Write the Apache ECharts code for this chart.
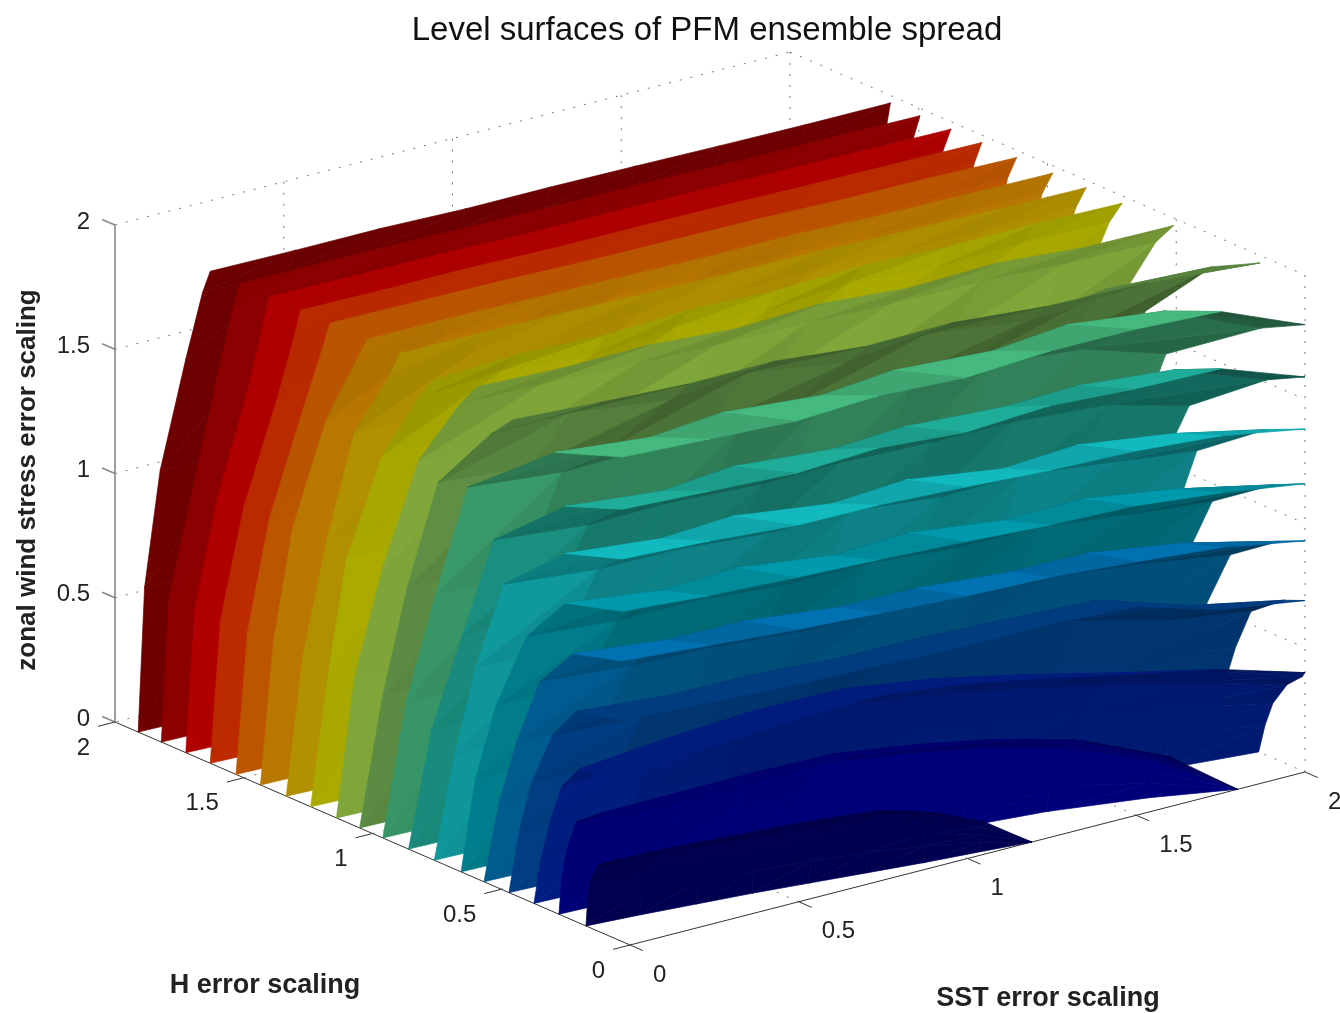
<!DOCTYPE html>
<html><head><meta charset="utf-8">
<style>html,body{margin:0;padding:0;background:#fff}#c{width:1340px;height:1013px;filter:blur(0.5px)}</style>
<script src="https://cdn.jsdelivr.net/npm/echarts@6/dist/echarts.min.js"></script></head>
<body><div id="c"></div>
<script>
const tickValues=[0,0.5,1,1.5,2];
const tickLabels=['0','0.5','1','1.5','2'];
const rowFractions=[0,0.3,0.55,0.8,0.95,1];
const sstGrid=[0,0.25,0.5,0.75,1,1.25,1.5,1.75,2];
const sstGrid18=[0,0.225,0.45,0.675,0.9,1.125,1.35,1.6,1.8];
const sstGrid19=[0,0.15,0.3,0.45,0.6,0.75,0.9,1.05,1.19];
const levelColors=['#6e0000','#8c0000','#b00000','#bb2a00','#bb5500','#b87700','#b09000','#a8a800','#7fa53a','#5f9045','#3a9a6a','#1a9080','#0f9a9f','#00808f','#005f94','#003f85','#001e85','#000075','#00004e'];
const top01=[1.98,1.98,1.98,1.975,1.975,1.975,1.97,1.97,1.97],top02=top01,top03=top01,top04=top01,top05=top01,top06=top01,top07=top01;
const top08=[1.93,1.95,1.94,1.96,1.95,1.97,1.96,1.97,1.97];
const top09=[1.98,1.97,1.98,1.96,1.98,1.96,1.98,1.96,1.97];
const top10=[1.91,1.90,1.89,1.90,1.88,1.90,1.89,1.93,1.97];
const top11=[1.95,1.94,1.93,1.94,1.93,1.95,1.95,1.94,1.8];
const top12=[1.74,1.73,1.72,1.73,1.71,1.73,1.71,1.71,1.59];
const top13=[1.54,1.53,1.51,1.50,1.49,1.47,1.46,1.44,1.38];
const top14=[1.33,1.31,1.30,1.28,1.27,1.25,1.24,1.21,1.16];
const top15=[1.13,1.11,1.09,1.07,1.05,1.04,1.02,0.99,0.93];
const top16=[0.89,0.88,0.87,0.86,0.85,0.85,0.84,0.74,0.69];
const top17=[0.65,0.70,0.73,0.74,0.70,0.64,0.57,0.50,0.40];
const top18=[0.5,0.51,0.52,0.52,0.48,0.43,0.35,0.2,0];
const top19=[0.33,0.33,0.32,0.31,0.30,0.28,0.22,0.13,0];
const h01=[[1.91,1.885,1.825,1.725,1.66,1.63],[1.90,1.875,1.82,1.72,1.655,1.625],[1.88,1.86,1.81,1.71,1.65,1.625],[1.87,1.855,1.80,1.71,1.65,1.62],[1.85,1.84,1.79,1.70,1.645,1.62],[1.84,1.825,1.78,1.70,1.64,1.615],[1.83,1.815,1.77,1.69,1.635,1.615],[1.81,1.80,1.76,1.685,1.63,1.61],[1.80,1.79,1.75,1.68,1.625,1.61]];
const h02=[[1.82,1.79,1.695,1.60,1.54,1.515],[1.81,1.78,1.69,1.595,1.535,1.515],[1.80,1.77,1.685,1.59,1.535,1.51],[1.785,1.755,1.68,1.59,1.53,1.51],[1.77,1.745,1.675,1.585,1.53,1.505],[1.76,1.73,1.67,1.58,1.53,1.505],[1.745,1.72,1.665,1.58,1.525,1.50],[1.73,1.71,1.66,1.575,1.52,1.50],[1.72,1.70,1.66,1.57,1.52,1.495]];
const h03=[[1.725,1.69,1.60,1.48,1.42,1.40],[1.71,1.68,1.595,1.475,1.42,1.395],[1.70,1.67,1.59,1.475,1.415,1.395],[1.69,1.66,1.585,1.47,1.415,1.39],[1.675,1.645,1.575,1.465,1.41,1.39],[1.66,1.63,1.565,1.46,1.41,1.385],[1.65,1.62,1.555,1.46,1.41,1.385],[1.635,1.605,1.545,1.455,1.405,1.38],[1.62,1.59,1.54,1.45,1.405,1.375]];
const h04=[[1.63,1.59,1.50,1.37,1.30,1.28],[1.615,1.58,1.495,1.365,1.30,1.275],[1.60,1.565,1.485,1.365,1.295,1.275],[1.59,1.555,1.48,1.36,1.295,1.27],[1.575,1.54,1.465,1.355,1.29,1.27],[1.56,1.53,1.455,1.355,1.29,1.265],[1.55,1.515,1.445,1.35,1.29,1.265],[1.535,1.505,1.44,1.345,1.285,1.26],[1.52,1.49,1.43,1.34,1.285,1.255]];
const h05=[[1.53,1.485,1.40,1.27,1.19,1.165],[1.52,1.475,1.39,1.265,1.185,1.16],[1.505,1.46,1.38,1.255,1.18,1.155],[1.495,1.45,1.37,1.25,1.18,1.15],[1.48,1.435,1.36,1.24,1.175,1.145],[1.465,1.42,1.345,1.235,1.17,1.14],[1.45,1.41,1.335,1.225,1.165,1.135],[1.435,1.395,1.32,1.22,1.16,1.13],[1.42,1.38,1.31,1.21,1.155,1.12]];
const h06=[[1.435,1.385,1.31,1.18,1.06,1.02],[1.425,1.375,1.295,1.165,1.065,1.02],[1.41,1.36,1.285,1.16,1.05,1.01],[1.40,1.35,1.27,1.14,1.055,1.01],[1.385,1.335,1.26,1.135,1.04,1.00],[1.37,1.32,1.245,1.12,1.045,1.00],[1.355,1.31,1.235,1.115,1.03,0.99],[1.34,1.295,1.22,1.10,1.03,0.985],[1.32,1.28,1.21,1.09,1.02,0.98]];
const h07=[[1.335,1.27,1.18,1.07,0.93,0.893],[1.32,1.26,1.17,1.05,0.935,0.89],[1.31,1.25,1.155,1.045,0.92,0.885],[1.295,1.235,1.15,1.025,0.925,0.88],[1.28,1.22,1.135,1.02,0.91,0.875],[1.265,1.21,1.125,1.00,0.915,0.87],[1.25,1.195,1.11,0.995,0.90,0.865],[1.235,1.185,1.105,0.975,0.90,0.855],[1.22,1.17,1.09,0.97,0.89,0.85]];
const h08=[[1.24,1.17,1.10,0.96,0.82,0.765],[1.225,1.16,1.08,0.94,0.83,0.76],[1.21,1.145,1.07,0.935,0.80,0.755],[1.20,1.135,1.05,0.915,0.81,0.75],[1.185,1.12,1.04,0.91,0.785,0.745],[1.17,1.11,1.02,0.89,0.795,0.735],[1.155,1.095,1.01,0.885,0.77,0.73],[1.135,1.08,0.99,0.865,0.775,0.72],[1.12,1.06,0.98,0.86,0.76,0.71]];
const h09=[[1.14,1.07,0.96,0.82,0.66,0.594],[1.125,1.06,0.95,0.79,0.67,0.59],[1.11,1.04,0.935,0.795,0.635,0.58],[1.10,1.03,0.92,0.76,0.65,0.575],[1.085,1.01,0.91,0.77,0.62,0.565],[1.07,1.00,0.895,0.735,0.63,0.555],[1.055,0.98,0.885,0.745,0.60,0.54],[1.035,0.965,0.87,0.71,0.605,0.53],[1.02,0.95,0.86,0.72,0.58,0.51]];
const h10=[[1.05,0.96,0.865,0.745,0.54,0.454],[1.04,0.955,0.855,0.71,0.56,0.44],[1.03,0.945,0.84,0.72,0.50,0.43],[1.02,0.935,0.825,0.68,0.53,0.42],[1.01,0.925,0.815,0.695,0.47,0.40],[0.995,0.915,0.80,0.65,0.49,0.38],[0.98,0.905,0.785,0.665,0.43,0.35],[0.965,0.89,0.77,0.62,0.44,0.28],[0.95,0.88,0.75,0.62,0.36,0.175]];
const h11=[[0.96,0.87,0.755,0.63,0.29,0.03],[0.95,0.865,0.75,0.59,0.25,0.02],[0.94,0.855,0.74,0.61,0.30,0.01],[0.925,0.845,0.73,0.565,0.24,0.02],[0.91,0.835,0.725,0.59,0.29,0.01],[0.895,0.825,0.715,0.55,0.23,0.01],[0.88,0.81,0.705,0.57,0.27,0.01],[0.865,0.795,0.69,0.53,0.22,0],[0.85,0.78,0.68,0.54,0.17,0]];
const h12=[[0.86,0.77,0.65,0.53,0.25,0.03],[0.85,0.765,0.645,0.49,0.21,0.02],[0.84,0.755,0.64,0.51,0.26,0.01],[0.83,0.745,0.635,0.47,0.20,0.02],[0.815,0.735,0.63,0.50,0.25,0.01],[0.80,0.725,0.62,0.46,0.19,0.01],[0.785,0.715,0.615,0.48,0.23,0.01],[0.77,0.70,0.605,0.44,0.18,0],[0.75,0.69,0.60,0.45,0.15,0]];
const h13=[[0.76,0.68,0.60,0.49,0.25,0.03],[0.75,0.67,0.595,0.45,0.21,0.02],[0.745,0.665,0.585,0.47,0.26,0.01],[0.73,0.655,0.58,0.44,0.20,0.02],[0.72,0.645,0.57,0.46,0.24,0.01],[0.705,0.635,0.56,0.43,0.19,0.01],[0.69,0.625,0.55,0.45,0.23,0.01],[0.675,0.615,0.535,0.41,0.18,0],[0.66,0.60,0.52,0.42,0.15,0]];
const h14=[[0.656,0.60,0.52,0.40,0.25,0.03],[0.645,0.59,0.515,0.38,0.21,0.02],[0.635,0.58,0.51,0.39,0.24,0.01],[0.625,0.57,0.505,0.37,0.20,0.02],[0.61,0.555,0.50,0.385,0.23,0.01],[0.60,0.545,0.495,0.365,0.19,0.01],[0.585,0.53,0.49,0.375,0.21,0.01],[0.565,0.515,0.48,0.35,0.17,0],[0.55,0.50,0.47,0.36,0.12,0]];
const h15=[[0.567,0.51,0.44,0.35,0.22,0.03],[0.555,0.505,0.435,0.33,0.19,0.02],[0.545,0.495,0.43,0.34,0.21,0.01],[0.53,0.485,0.425,0.32,0.18,0.01],[0.52,0.475,0.42,0.335,0.20,0.01],[0.505,0.465,0.41,0.31,0.17,0.01],[0.49,0.455,0.40,0.32,0.19,0],[0.47,0.44,0.39,0.30,0.15,0],[0.45,0.42,0.38,0.29,0.10,0]];
const h16=[[0.47,0.43,0.38,0.30,0.21,0.03],[0.455,0.42,0.37,0.28,0.18,0.02],[0.44,0.41,0.365,0.29,0.19,0.01],[0.425,0.40,0.355,0.27,0.17,0.01],[0.41,0.39,0.345,0.28,0.18,0.01],[0.39,0.375,0.33,0.26,0.16,0.01],[0.37,0.36,0.315,0.25,0.15,0],[0.345,0.34,0.295,0.235,0.12,0],[0.32,0.315,0.27,0.21,0.08,0]];
const h17=[[0.373,0.345,0.31,0.265,0.2,0.03],[0.36,0.335,0.30,0.255,0.18,0.02],[0.345,0.32,0.29,0.24,0.17,0.01],[0.33,0.305,0.275,0.225,0.15,0.01],[0.31,0.29,0.26,0.21,0.13,0.01],[0.285,0.265,0.235,0.185,0.10,0],[0.26,0.24,0.205,0.155,0.07,0],[0.22,0.195,0.165,0.11,0.04,0],[0.18,0.155,0.125,0.07,0.01,0]];
const h18=[[0.276,0.265,0.245,0.21,0.12,0.03],[0.265,0.255,0.235,0.20,0.11,0.02],[0.25,0.24,0.225,0.19,0.10,0.01],[0.235,0.225,0.21,0.175,0.09,0.01],[0.21,0.20,0.185,0.155,0.08,0.01],[0.185,0.175,0.16,0.13,0.06,0],[0.15,0.14,0.125,0.10,0.05,0],[0.08,0.075,0.065,0.05,0.02,0],[0,0,0,0,0,0]];
const h19=[[0.171,0.165,0.155,0.125,0.06,0.01],[0.155,0.15,0.14,0.11,0.05,0.01],[0.135,0.13,0.12,0.095,0.045,0.005],[0.115,0.11,0.10,0.08,0.04,0],[0.09,0.085,0.08,0.06,0.03,0],[0.065,0.06,0.055,0.045,0.02,0],[0.04,0.04,0.035,0.03,0.01,0],[0.02,0.02,0.015,0.01,0,0],[0,0,0,0,0,0]];

const levels=[[h01,top01],[h02,top02],[h03,top03],[h04,top04],[h05,top05],[h06,top06],[h07,top07],[h08,top08],[h09,top09],[h10,top10],[h11,top11],[h12,top12],[h13,top13],[h14,top14],[h15,top15],[h16,top16],[h17,top17],[h18,top18],[h19,top19]];

// view transform of the 3-D box onto the picture axes
const project=(s,h,z)=>[630+337.5*s-257.5*h,945-86.5*s-111.5*h-248.5*z];
const light=[-0.35,-0.93,-0.1];
const toViewer=[-1,-1.31,0.936];
function shade(a,b,c,k,col){
  const u=[b[0]-a[0],b[1]-a[1],b[2]-a[2]],v=[c[0]-a[0],c[1]-a[1],c[2]-a[2]];
  let n=[u[1]*v[2]-u[2]*v[1],u[2]*v[0]-u[0]*v[2],u[0]*v[1]-u[1]*v[0]];
  const len=Math.hypot(n[0],n[1],n[2]);
  if(len<1e-9) return null;
  n=n.map(x=>x/len);
  // make the normal point to the -H side; faces whose -H side points away from the viewer show their back
  if(n[1]>0) n=n.map(x=>-x);
  const back=n[0]*toViewer[0]+n[1]*toViewer[1]+n[2]*toViewer[2]<0;
  if(back) return k>=15?0.95:k>=10?(col%2===0?1.2:1.08):0.9;
  const d=n[0]*light[0]+n[1]*light[1]+n[2]*light[2];
  let f=Math.min(1.15,Math.max(0.66,0.15+0.9*d));
  // interior of the mid levels reads darker than their left-hand bands
  if(k>=9&&k<=16) f*=1-0.17*Math.min(1,(a[0]+b[0]+c[0])/1.5);
  return f;
}
function tint(hex,f){
  const v=[1,3,5].map(i=>Math.min(255,Math.round(parseInt(hex.substr(i,2),16)*f)));
  return 'rgb('+v.join(',')+')';
}
const triData=[];
levels.forEach(([hs,tops],k)=>{
  const grid=k===17?sstGrid18:k===18?sstGrid19:sstGrid;
  const pt=(c,r)=>[grid[c],hs[c][r],tops[c]*rowFractions[r]];
  const list=[];
  for(let c=0;c<8;c++)for(let r=0;r<5;r++){
    const a=pt(c,r),b=pt(c+1,r),d=pt(c+1,r+1),e=pt(c,r+1);
    [[a,b,d],[a,d,e]].forEach(t=>{
      const f=shade(t[0],t[1],t[2],k,c);
      if(f===null) return;
      const depth=t.reduce((m,p)=>m+p[0]+1.31*p[1]-0.936*p[2],0);
      list.push({t,f,depth});
    });
  }
  list.sort((x,y)=>y.depth-x.depth);
  list.forEach(o=>triData.push([...o.t[0],...o.t[1],...o.t[2],k,o.f]));
});

// box, grid and tick segments: [s1,h1,z1,s2,h2,z2,kind]  kind 0 dotted, 1 solid dark, 2 solid grey
const segs=[];
const seg=(a,b,k)=>segs.push([...a,...b,k]);
seg([0,2,2],[2,2,2],0);seg([2,2,2],[2,0,2],0);seg([2,0,0],[2,0,2],0);seg([2,2,0],[2,2,2],0);
seg([2,2,0],[2,0,0],0);seg([2,2,0],[0,2,0],0);
tickValues.slice(1,4).forEach(t=>{
  seg([0,2,t],[2,2,t],0);seg([2,2,t],[2,0,t],0);
  seg([t,2,0],[t,2,2],0);seg([2,t,0],[2,t,2],0);
  seg([t,0,0],[t,2,0],0);seg([0,t,0],[2,t,0],0);
});
seg([0,0,0],[0,2,0],1);seg([0,0,0],[2,0,0],1);seg([0,2,0],[0,2,2],2);
tickValues.forEach(t=>{
  seg([t,0,0],[t,-0.05,0],1);seg([0,t,0],[-0.05,t,0],1);seg([0,2,t],[0,2.05,t],2);
});

const labelData=[];
tickValues.forEach((t,i)=>{
  labelData.push([0,2,t,-25,-3,tickLabels[i],'right']);
  labelData.push([0,t,0,-25,26,tickLabels[i],'right']);
  labelData.push([t,0,0,23,30,tickLabels[i],'left']);
});
const coord=(api,s,h,z)=>api.coord(project(s,h,z));
const chart=echarts.init(document.getElementById('c'),null,{renderer:'canvas'});
chart.setOption({
  animation:false,
  title:{text:'Level surfaces of PFM ensemble spread',left:702,top:9,textAlign:'center',textStyle:{fontFamily:'Liberation Sans',fontSize:33,fontWeight:'normal',color:'#111'}},
  grid:{left:0,right:0,top:0,bottom:0},
  xAxis:{type:'value',min:0,max:1340,show:false},
  yAxis:{type:'value',min:0,max:1013,inverse:true,show:false},
  graphic:[
    {type:'text',x:265,y:986,style:{text:'H error scaling',font:'bold 27px "Liberation Sans"',fill:'#222',align:'center',verticalAlign:'middle'}},
    {type:'text',x:1048,y:999,style:{text:'SST error scaling',font:'bold 27px "Liberation Sans"',fill:'#222',align:'center',verticalAlign:'middle'}},
    {type:'text',x:28,y:480,rotation:Math.PI/2,style:{text:'zonal wind stress error scaling',font:'bold 26px "Liberation Sans"',fill:'#222',align:'center',verticalAlign:'middle'}}
  ],
  series:[
    {type:'custom',silent:true,coordinateSystem:'cartesian2d',data:segs,z:1,progressive:0,clip:false,
      renderItem:(p,api)=>{
        const a=coord(api,api.value(0),api.value(1),api.value(2)),b=coord(api,api.value(3),api.value(4),api.value(5)),k=api.value(6);
        return {type:'line',shape:{x1:a[0],y1:a[1],x2:b[0],y2:b[1]},style:{stroke:k===0?'#777':k===1?'#333':'#888',lineWidth:k===2?1.6:1,lineDash:k===0?[2,9]:null}};
      }},
    {type:'custom',silent:true,coordinateSystem:'cartesian2d',data:triData,z:2,progressive:0,clip:false,
      renderItem:(p,api)=>{
        const pts=[0,3,6].map(i=>coord(api,api.value(i),api.value(i+1),api.value(i+2)));
        const col=tint(levelColors[api.value(9)],api.value(10));
        return {type:'polygon',shape:{points:pts},style:{fill:col,stroke:col,lineWidth:0.7}};
      }},
    {type:'custom',silent:true,coordinateSystem:'cartesian2d',data:labelData.map(d=>({value:d.slice(0,5)})),z:3,progressive:0,clip:false,
      renderItem:(p,api)=>{
        const a=coord(api,api.value(0),api.value(1),api.value(2)),it=labelData[p.dataIndex];
        return {type:'text',x:a[0]+it[3],y:a[1]+it[4],style:{text:it[5],font:'24px "Liberation Sans"',fill:'#222',align:it[6],verticalAlign:'middle'}};
      }}
  ]
});
</script></body></html>
